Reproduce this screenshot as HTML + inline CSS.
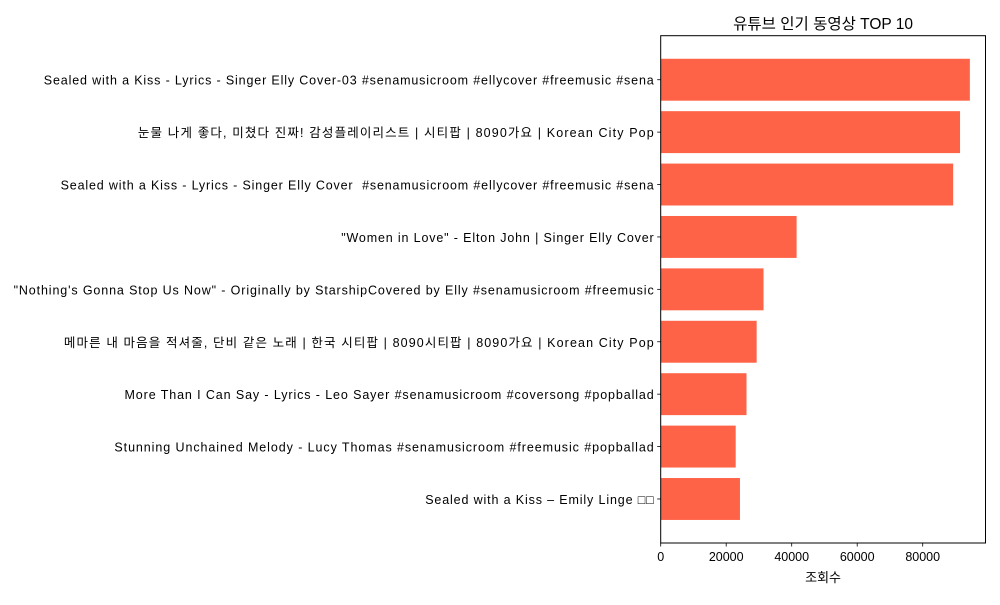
<!DOCTYPE html>
<html><head><meta charset="utf-8"><style>
body{margin:0;background:#fff;width:1000px;height:600px;overflow:hidden}
svg text{font-family:"Liberation Sans","Noto Sans CJK KR",sans-serif;fill:#000;white-space:pre}
</style></head><body>
<svg id="chart" width="1000" height="600"></svg>
<script>
const categories = [
"Sealed with a Kiss - Lyrics - Singer Elly Cover-03 #senamusicroom #ellycover #freemusic #sena",
"눈물 나게 좋다, 미쳤다 진짜! 감성플레이리스트 | 시티팝 | 8090가요 | Korean City Pop",
"Sealed with a Kiss - Lyrics - Singer Elly Cover  #senamusicroom #ellycover #freemusic #sena",
"\"Women in Love\" - Elton John | Singer Elly Cover",
"\"Nothing's Gonna Stop Us Now\" - Originally by StarshipCovered by Elly #senamusicroom #freemusic",
"메마른 내 마음을 적셔줄, 단비 같은 노래 | 한국 시티팝 | 8090시티팝 | 8090가요 | Korean City Pop",
"More Than I Can Say - Lyrics - Leo Sayer #senamusicroom #coversong #popballad",
"Stunning Unchained Melody - Lucy Thomas #senamusicroom #freemusic #popballad",
"Sealed with a Kiss – Emily Linge □□"
];
const views = [94400, 91400, 89300, 41500, 31400, 29300, 26200, 22900, 24200];
const xTicks = [0, 20000, 40000, 60000, 80000];
const xTickLabels = ["0", "20000", "40000", "60000", "80000"];

const NS = "http://www.w3.org/2000/svg";
const svg = document.getElementById("chart");
const L = 660.7, R = 985.5, T = 35.7, B = 543;
const xMax = (R - L) / 0.003275;
const x = v => L + v / xMax * (R - L);
const n = categories.length;
const span = (n - 1 + 0.8) * 1.1;
const y = i => T + (i - (-0.4 - (n - 0.2) * 0.05)) / span * (B - T);
function mk(tag, attrs, parent) {
  const e = document.createElementNS(NS, tag);
  for (const k in attrs) e.setAttribute(k, attrs[k]);
  (parent || svg).appendChild(e); return e;
}
views.forEach((v, i) => {
  const r = mk("rect", {x: x(0), y: y(i - 0.4), width: x(v) - x(0), height: y(i + 0.4) - y(i - 0.4), fill: "#ff6347"});
  
  
  const tk = mk("line", {x1: L - 3.5, x2: L, y1: y(i), y2: y(i), stroke: "#000", "stroke-width": 0.8});
  
  
  const t = mk("text", {x: L - 7, y: y(i) + 5, "text-anchor": "end", "font-size": 12.5});
  t.textContent = categories[i];
  
  
  const w = t.getComputedTextLength();
  t.setAttribute("textLength", (w * 1.147).toFixed(1));
  t.setAttribute("lengthAdjust", "spacing");
});
xTicks.forEach((v, i) => {
  const tk = mk("line", {x1: x(v), x2: x(v), y1: B, y2: B + 3.5, stroke: "#000", "stroke-width": 0.8});
  
  
  const t = mk("text", {x: x(v), y: B + 18, "text-anchor": "middle", "font-size": 12.5});
  t.textContent = xTickLabels[i];
  
  
});
const frame = mk("rect", {x: L, y: T, width: R - L, height: B - T, fill: "none", stroke: "#000", "stroke-width": 1});


const xt = mk("text", {x: (L + R) / 2, y: 582, "text-anchor": "middle", "font-size": 13});
xt.textContent = "조회수";


const ti = mk("text", {x: (L + R) / 2, y: 29, "text-anchor": "middle", "font-size": 15.5});
ti.textContent = "유튜브 인기 동영상 TOP 10";


</script>
</body></html>
